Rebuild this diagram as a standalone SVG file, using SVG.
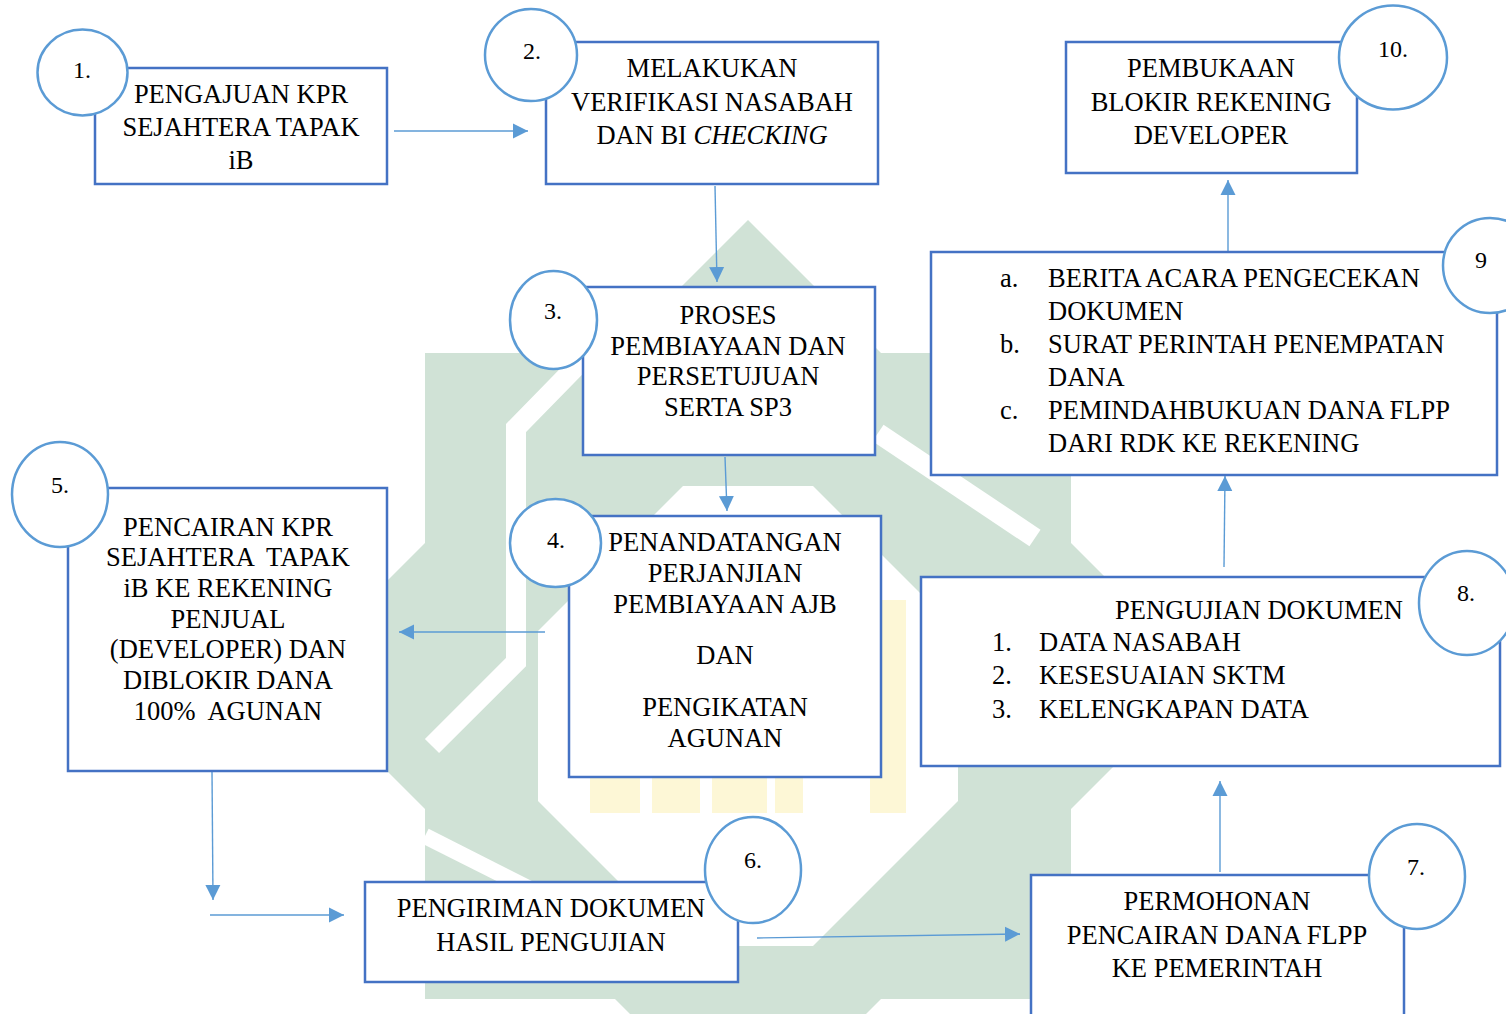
<svg xmlns="http://www.w3.org/2000/svg" width="1506" height="1014" viewBox="0 0 1506 1014">
<style>
.box{fill:#fff;stroke:#4472c4;stroke-width:2.5}
.num{fill:#fff;stroke:#5b9bd5;stroke-width:2.5}
text{font-family:"Liberation Serif","Times New Roman",serif;fill:#000}
.t{font-size:26.5px;text-anchor:middle}
.l{font-size:26.5px;text-anchor:start}
.n{font-size:24px;text-anchor:middle}
.conn line{stroke:#5b9bd5;stroke-width:1.4;fill:none;marker-end:url(#ah)}
.wm{fill:#d0e2d6}
.wy{fill:#fdf7d6}
.ws{fill:none;stroke:#fff}
</style>
<defs>
<marker id="ah" markerUnits="userSpaceOnUse" markerWidth="15" markerHeight="16" viewBox="0 0 15 16" refX="15" refY="8" orient="auto">
<path d="M0,0.5 L15,8 L0,15.5 Z" fill="#5b9bd5"/>
</marker>
</defs>
<rect width="1506" height="1014" fill="#fff"/>
<g id="watermark">
<rect class="wm" x="425" y="353" width="646" height="646"/>
<polygon class="wm" points="748,220 1204,676 748,1132 292,676"/>
<polygon fill="#fff" points="683,486 813,486 958,631 958,801 813,946 683,946 538,801 538,631"/>
<path class="ws" d="M604,338 L516,428 L516,662 L432,746" stroke-width="20"/>
<path class="ws" d="M878,433 L1035,538" stroke-width="20"/>
<path class="ws" d="M425,836 L655,952" stroke-width="16"/>
<rect class="wy" x="590" y="772" width="50" height="41"/>
<rect class="wy" x="652" y="772" width="48" height="41"/>
<rect class="wy" x="712" y="772" width="55" height="41"/>
<rect class="wy" x="775" y="772" width="28" height="41"/>
<rect class="wy" x="870" y="600" width="36" height="213"/>
</g>
<g class="conn" id="connectors">
<line x1="394" y1="131" x2="528" y2="131"/>
<line x1="715" y1="186" x2="717" y2="282"/>
<line x1="725" y1="457" x2="727" y2="511"/>
<line x1="545" y1="632" x2="399" y2="632"/>
<line x1="212" y1="771" x2="213" y2="900"/>
<line x1="210" y1="915" x2="344" y2="915"/>
<line x1="757" y1="938" x2="1020" y2="934"/>
<line x1="1220" y1="872" x2="1220" y2="781"/>
<line x1="1224" y1="567" x2="1225" y2="476"/>
<line x1="1228" y1="252" x2="1228" y2="180"/>
</g>
<g id="node1">
<rect class="box" x="95" y="68" width="292" height="116"/>
<ellipse class="num" cx="82.5" cy="72.5" rx="45" ry="43"/>
<text class="n" x="82" y="78">1.</text>
<text class="t" x="241" y="103">PENGAJUAN KPR</text>
<text class="t" x="241" y="136">SEJAHTERA TAPAK</text>
<text class="t" x="241" y="169">iB</text>
</g>
<g id="node2">
<rect class="box" x="546" y="42" width="332" height="142"/>
<ellipse class="num" cx="531" cy="55" rx="46" ry="46"/>
<text class="n" x="532" y="59">2.</text>
<text class="t" x="712" y="77">MELAKUKAN</text>
<text class="t" x="712" y="111">VERIFIKASI NASABAH</text>
<text class="t" x="712" y="144">DAN BI <tspan font-style="italic">CHECKING</tspan></text>
</g>
<g id="node3">
<rect class="box" x="583" y="287" width="292" height="168"/>
<ellipse class="num" cx="553.5" cy="320" rx="43.5" ry="49"/>
<text class="n" x="553" y="319">3.</text>
<text class="t" x="728" y="324">PROSES</text>
<text class="t" x="728" y="355">PEMBIAYAAN DAN</text>
<text class="t" x="728" y="385">PERSETUJUAN</text>
<text class="t" x="728" y="416">SERTA SP3</text>
</g>
<g id="node4">
<rect class="box" x="569" y="516" width="312" height="261"/>
<ellipse class="num" cx="555.5" cy="543" rx="45.5" ry="44"/>
<text class="n" x="556" y="548">4.</text>
<text class="t" x="725" y="551">PENANDATANGAN</text>
<text class="t" x="725" y="582">PERJANJIAN</text>
<text class="t" x="725" y="613">PEMBIAYAAN AJB</text>
<text class="t" x="725" y="664">DAN</text>
<text class="t" x="725" y="716">PENGIKATAN</text>
<text class="t" x="725" y="747">AGUNAN</text>
</g>
<g id="node5">
<rect class="box" x="68" y="488" width="319" height="283"/>
<ellipse class="num" cx="60" cy="494.5" rx="48" ry="52.5"/>
<text class="n" x="60" y="493">5.</text>
<text class="t" x="228" y="536">PENCAIRAN KPR</text>
<text class="t" x="228" y="566" xml:space="preserve">SEJAHTERA  TAPAK</text>
<text class="t" x="228" y="597">iB KE REKENING</text>
<text class="t" x="228" y="628">PENJUAL</text>
<text class="t" x="228" y="658">(DEVELOPER) DAN</text>
<text class="t" x="228" y="689">DIBLOKIR DANA</text>
<text class="t" x="228" y="720" xml:space="preserve">100%  AGUNAN</text>
</g>
<g id="node6">
<rect class="box" x="365" y="882" width="373" height="100"/>
<ellipse class="num" cx="753" cy="870" rx="48" ry="53"/>
<text class="n" x="753" y="868">6.</text>
<text class="t" x="551" y="917">PENGIRIMAN DOKUMEN</text>
<text class="t" x="551" y="951">HASIL PENGUJIAN</text>
</g>
<g id="node7">
<rect class="box" x="1031" y="875" width="373" height="160"/>
<ellipse class="num" cx="1417" cy="876.5" rx="48" ry="52.5"/>
<text class="n" x="1416" y="875">7.</text>
<text class="t" x="1217" y="910">PERMOHONAN</text>
<text class="t" x="1217" y="944">PENCAIRAN DANA FLPP</text>
<text class="t" x="1217" y="977">KE PEMERINTAH</text>
</g>
<g id="node8">
<rect class="box" x="921" y="577" width="579" height="189"/>
<ellipse class="num" cx="1467" cy="603" rx="48" ry="52"/>
<text class="n" x="1466" y="601">8.</text>
<text class="t" x="1259" y="619">PENGUJIAN DOKUMEN</text>
<text class="l" x="992" y="651">1.</text>
<text class="l" x="1039" y="651">DATA NASABAH</text>
<text class="l" x="992" y="684">2.</text>
<text class="l" x="1039" y="684">KESESUAIAN SKTM</text>
<text class="l" x="992" y="718">3.</text>
<text class="l" x="1039" y="718">KELENGKAPAN DATA</text>
</g>
<g id="node9">
<rect class="box" x="931" y="252" width="566" height="223"/>
<ellipse class="num" cx="1490" cy="265.5" rx="47" ry="47.5"/>
<text class="n" x="1481" y="268">9</text>
<text class="l" x="1000" y="287">a.</text>
<text class="l" x="1048" y="287">BERITA ACARA PENGECEKAN</text>
<text class="l" x="1048" y="320">DOKUMEN</text>
<text class="l" x="1000" y="353">b.</text>
<text class="l" x="1048" y="353">SURAT PERINTAH PENEMPATAN</text>
<text class="l" x="1048" y="386">DANA</text>
<text class="l" x="1000" y="419">c.</text>
<text class="l" x="1048" y="419">PEMINDAHBUKUAN DANA FLPP</text>
<text class="l" x="1048" y="452">DARI RDK KE REKENING</text>
</g>
<g id="node10">
<rect class="box" x="1066" y="42" width="291" height="131"/>
<ellipse class="num" cx="1393" cy="57.5" rx="54" ry="52"/>
<text class="n" x="1393" y="57">10.</text>
<text class="t" x="1211" y="77">PEMBUKAAN</text>
<text class="t" x="1211" y="111">BLOKIR REKENING</text>
<text class="t" x="1211" y="144">DEVELOPER</text>
</g>
</svg>
